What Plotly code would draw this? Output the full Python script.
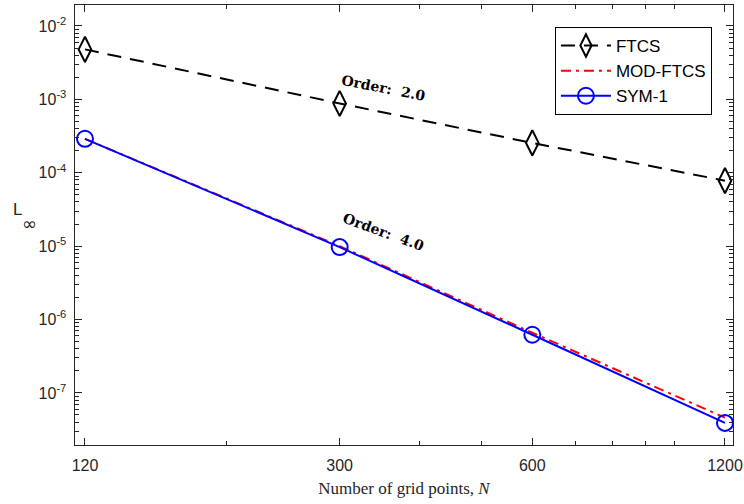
import plotly.graph_objects as go

N = [120, 300, 600, 1200]
ftcs = [4.8e-3, 8.8e-4, 2.55e-4, 7.8e-5]
mod_ftcs = [2.9e-4, 1.0e-5, 6.6e-7, 4.6e-8]
sym1 = [2.9e-4, 9.7e-6, 6.2e-7, 3.9e-8]
x_ticks = [120, 300, 600, 1200]
y_ticks = [1e-2, 1e-3, 1e-4, 1e-5, 1e-6, 1e-7]
y_ticklabels = ["10<sup>-2</sup>", "10<sup>-3</sup>", "10<sup>-4</sup>", "10<sup>-5</sup>",
                "10<sup>-6</sup>", "10<sup>-7</sup>"]

fig = go.Figure()
fig.add_trace(go.Scatter(x=N, y=ftcs, name="FTCS", mode="lines+markers",
                         line=dict(color="black", width=2, dash="14px,9px"),
                         marker=dict(symbol="diamond-tall-open", size=18, color="black",
                                     line=dict(width=2, color="black"))))
fig.add_trace(go.Scatter(x=N, y=mod_ftcs, name="MOD-FTCS", mode="lines",
                         line=dict(color="red", width=2, dash="10px,5px,3px,5px")))
fig.add_trace(go.Scatter(x=N, y=sym1, name="SYM-1", mode="lines+markers",
                         line=dict(color="#0000ff", width=2),
                         marker=dict(symbol="circle-open", size=16, color="#0000ff",
                                     line=dict(width=2, color="#0000ff"))))

axcol = "#262626"
fig.update_xaxes(type="log", range=[2.0636, 3.0917], tickvals=x_ticks,
                 ticktext=[str(v) for v in x_ticks], automargin=False,
                 ticks="inside", ticklen=7, tickcolor=axcol, mirror="ticks",
                 ticklabelstandoff=6,
                 showline=True, linecolor=axcol, linewidth=1, showgrid=False, zeroline=False,
                 minor=dict(dtick="D1", ticks="inside", ticklen=4,
                            tickcolor=axcol, showgrid=False),
                 tickfont=dict(family="Liberation Sans, Arial", size=16, color=axcol),
                 title=dict(text="Number of grid points, <i>N</i>", standoff=8,
                            font=dict(family="Liberation Serif, Times New Roman", size=17, color=axcol)))
fig.update_yaxes(type="log", range=[-7.71, -1.714], tickvals=y_ticks,
                 ticktext=[t + "&nbsp;" for t in y_ticklabels],
                 automargin=False,
                 ticks="inside", ticklen=7, tickcolor=axcol, mirror="ticks",
                 showline=True, linecolor=axcol, linewidth=1, showgrid=False, zeroline=False,
                 minor=dict(dtick="D1", ticks="inside", ticklen=4,
                            tickcolor=axcol, showgrid=False),
                 tickfont=dict(family="Liberation Sans, Arial", size=16, color=axcol))

# y-axis label L_inf (horizontal, as in the reference)
fig.add_annotation(x=-0.0881, y=0.536, xref="paper", yref="paper", text="L",
                   showarrow=False, xanchor="center", yanchor="middle",
                   font=dict(family="Liberation Sans, Arial", size=17, color=axcol))
fig.add_annotation(x=-0.0684, y=0.5045, xref="paper", yref="paper", text="∞",
                   showarrow=False, xanchor="center", yanchor="middle",
                   font=dict(family="DejaVu Sans", size=18, color=axcol))

fig.add_annotation(x=2.546, y=-2.845, xref="x", yref="y",
                   text="<b>Order:&nbsp;&nbsp;2.0</b>", showarrow=False, textangle=11,
                   font=dict(family="DejaVu Serif, Liberation Serif", size=14, color="black"))
fig.add_annotation(x=2.546, y=-4.806, xref="x", yref="y",
                   text="<b>Order:&nbsp;&nbsp;4.0</b>", showarrow=False, textangle=20,
                   font=dict(family="DejaVu Serif, Liberation Serif", size=14, color="black"))

fig.update_layout(width=744, height=504, margin=dict(l=75, r=11, t=5, b=59),
                  paper_bgcolor="white", plot_bgcolor="white",
                  legend=dict(x=0.968, y=0.95, xanchor="right", yanchor="top",
                              bordercolor="black", borderwidth=1, bgcolor="white",
                              font=dict(family="Liberation Sans, Arial", size=17, color="black"),
                              itemwidth=50, tracegroupgap=0),
                  showlegend=True)
fig.write_html("out.html", config={"displayModeBar": False},
               post_script="document.body.style.margin='0';")
